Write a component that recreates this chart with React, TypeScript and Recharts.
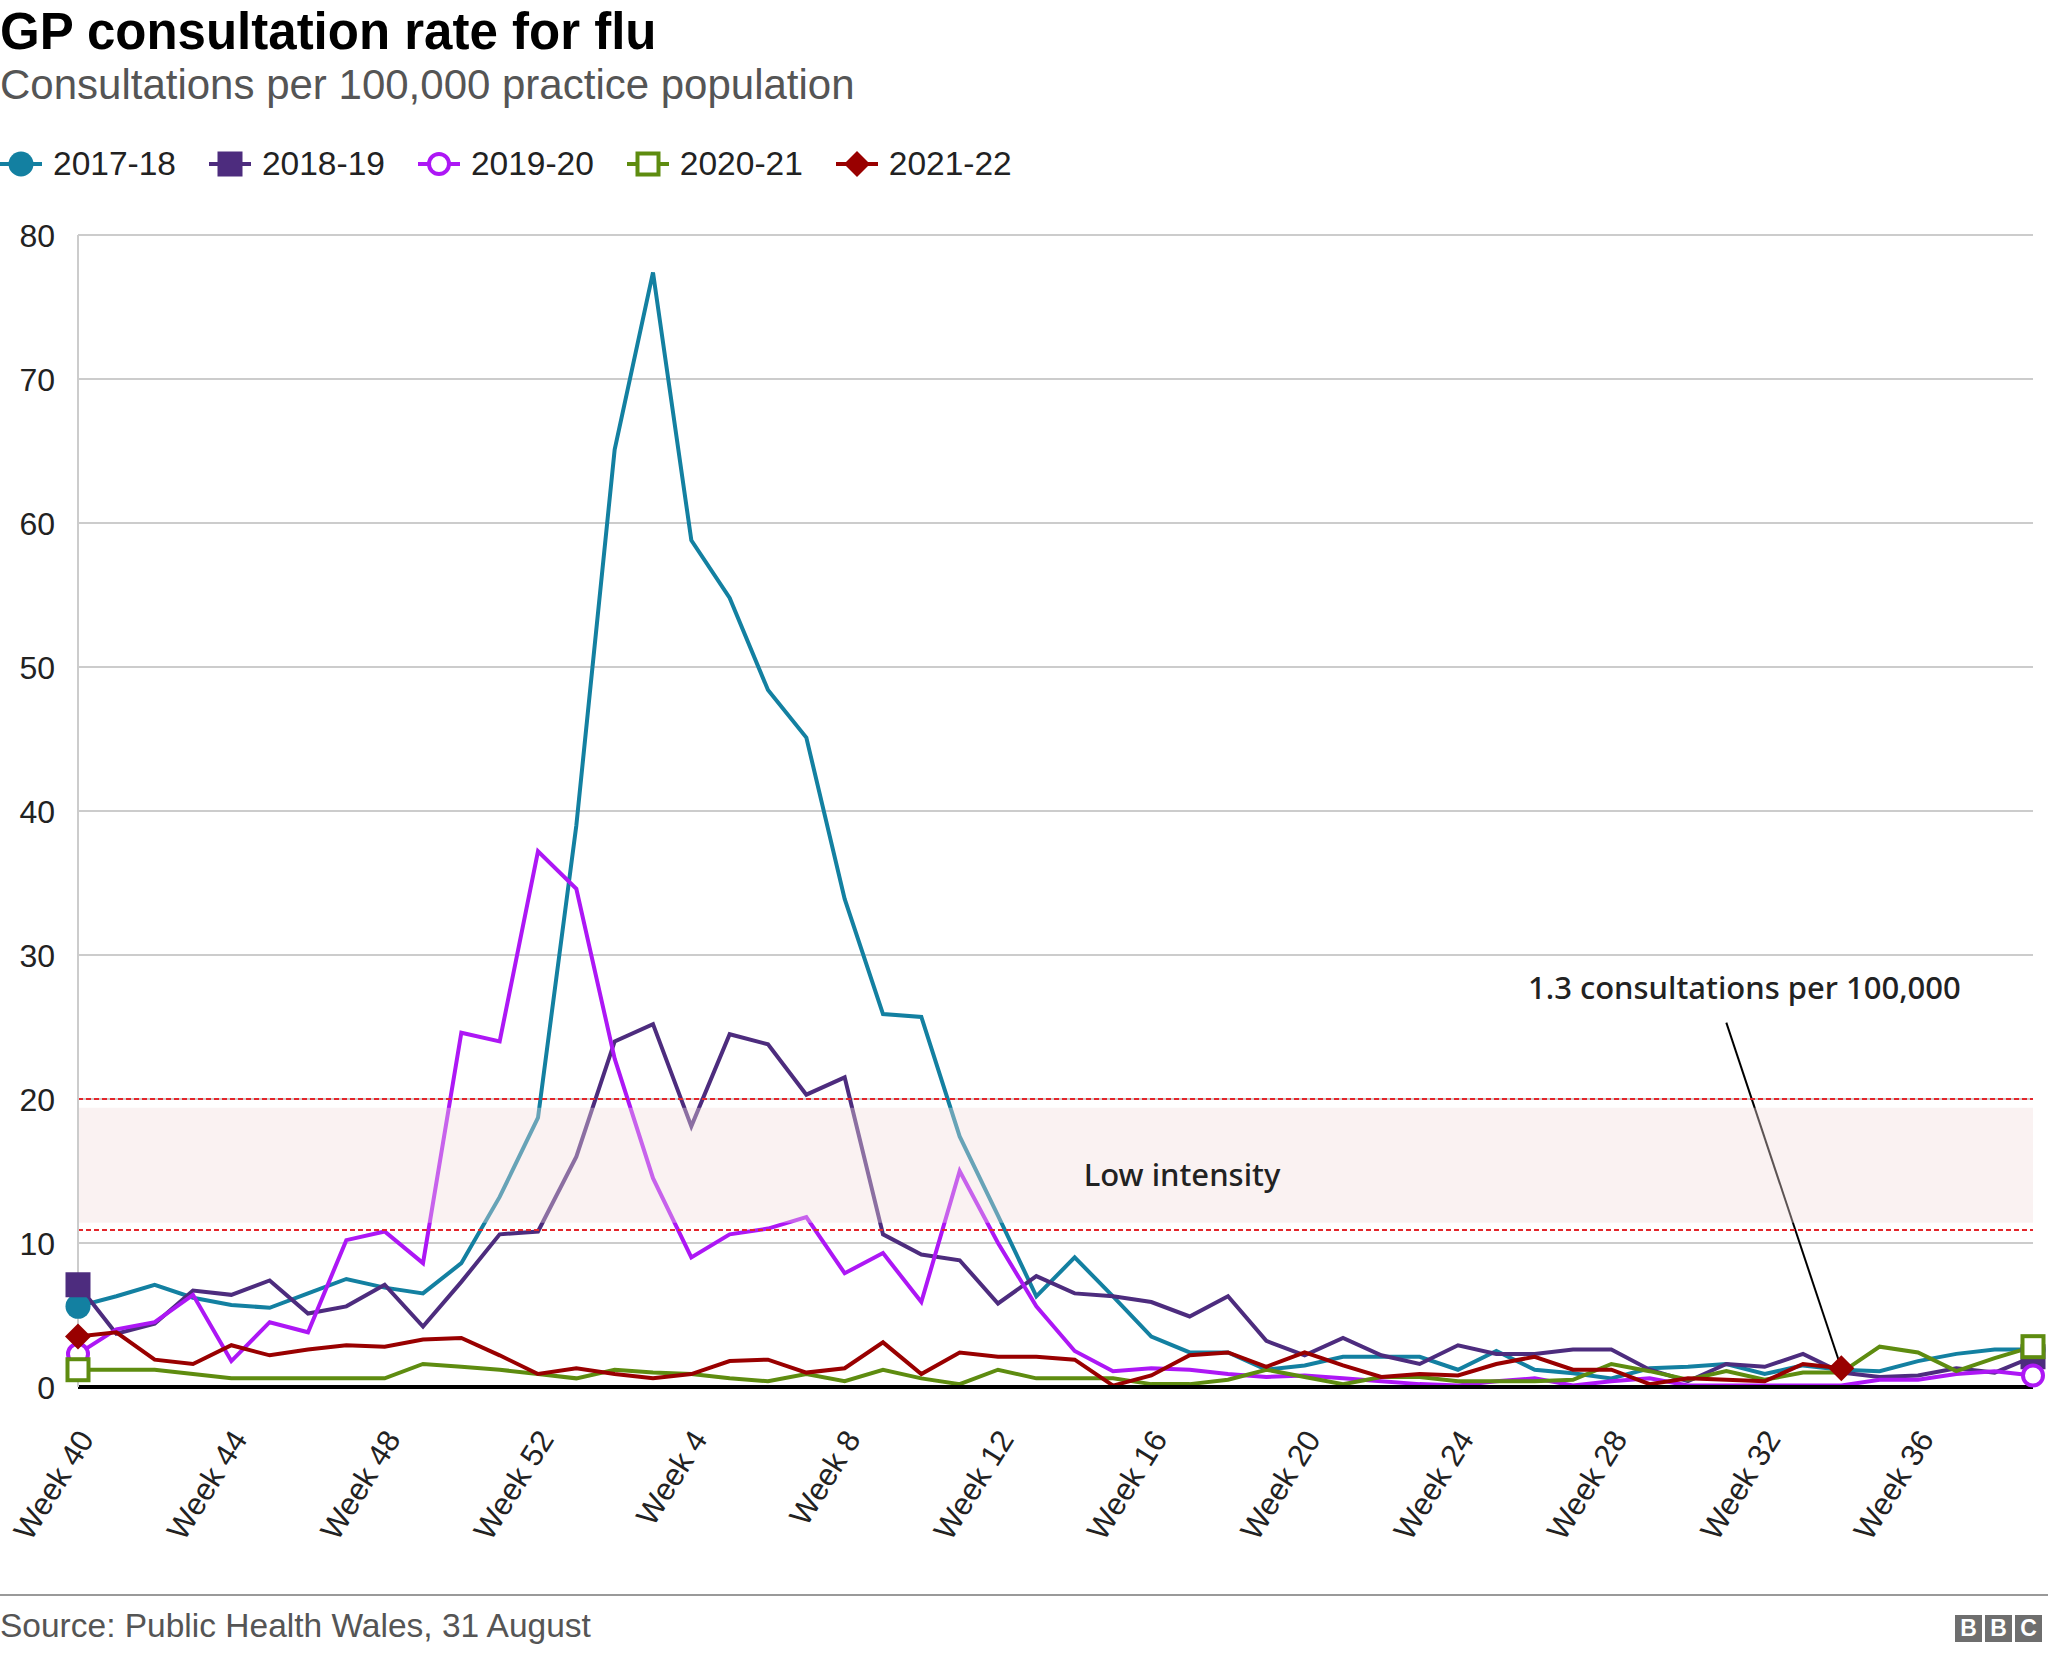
import React from 'react';
import { LineChart, Line, XAxis, YAxis, CartesianGrid, ReferenceLine, ReferenceArea } from 'recharts';

const weeks = [
  'Week 40', 'Week 41', 'Week 42', 'Week 43', 'Week 44', 'Week 45', 'Week 46', 'Week 47', 'Week 48', 'Week 49',
  'Week 50', 'Week 51', 'Week 52', 'Week 1', 'Week 2', 'Week 3', 'Week 4', 'Week 5', 'Week 6', 'Week 7',
  'Week 8', 'Week 9', 'Week 10', 'Week 11', 'Week 12', 'Week 13', 'Week 14', 'Week 15', 'Week 16', 'Week 17',
  'Week 18', 'Week 19', 'Week 20', 'Week 21', 'Week 22', 'Week 23', 'Week 24', 'Week 25', 'Week 26', 'Week 27',
  'Week 28', 'Week 29', 'Week 30', 'Week 31', 'Week 32', 'Week 33', 'Week 34', 'Week 35', 'Week 36', 'Week 37',
  'Week 38', 'Week 39',
];

const s2017_18 = [
  5.6, 6.3, 7.1, 6.2, 5.7, 5.5, 6.5, 7.5, 6.9, 6.5, 8.6, 13.2, 18.7, 39.0, 65.1, 77.4, 58.8, 54.8, 48.4, 45.1,
  33.9, 25.9, 25.7, 17.4, 11.9, 6.3, 9.0, 6.3, 3.5, 2.4, 2.4, 1.2, 1.5, 2.1, 2.1, 2.1, 1.2, 2.5, 1.2, 0.95,
  0.6, 1.3, 1.4, 1.6, 0.9, 1.5, 1.2, 1.1, 1.8, 2.3, 2.6, 2.6,
];
const s2018_19 = [
  7.1, 3.7, 4.4, 6.7, 6.4, 7.4, 5.1, 5.6, 7.1, 4.2, 7.3, 10.6, 10.8, 16.0, 24.0, 25.2, 18.1, 24.5, 23.8, 20.3,
  21.5, 10.6, 9.2, 8.8, 5.8, 7.7, 6.5, 6.3, 5.9, 4.9, 6.3, 3.2, 2.2, 3.4, 2.2, 1.6, 2.9, 2.3, 2.3, 2.6,
  2.6, 1.2, 0.4, 1.6, 1.4, 2.3, 1.0, 0.7, 0.8, 1.3, 1.0, 2.1,
];
const s2019_20 = [
  2.3, 4.0, 4.5, 6.4, 1.8, 4.5, 3.8, 10.2, 10.8, 8.6, 24.6, 24.0, 37.2, 34.6, 22.8, 14.5, 9.0, 10.6, 11.0, 11.8,
  7.9, 9.3, 5.9, 15.0, 10.0, 5.6, 2.5, 1.1, 1.3, 1.2, 0.9, 0.7, 0.8, 0.6, 0.4, 0.2, 0.1, 0.4, 0.6, 0.1,
  0.4, 0.6, 0.1, 0.1, 0.1, 0.1, 0.1, 0.5, 0.5, 0.9, 1.1, 0.8,
];
const s2020_21 = [
  1.2, 1.2, 1.2, 0.9, 0.6, 0.6, 0.6, 0.6, 0.6, 1.6, 1.4, 1.2, 0.9, 0.6, 1.2, 1.0, 0.9, 0.6, 0.4, 0.9,
  0.4, 1.2, 0.6, 0.2, 1.2, 0.6, 0.6, 0.6, 0.2, 0.2, 0.5, 1.2, 0.7, 0.2, 0.7, 0.7, 0.4, 0.4, 0.4, 0.5,
  1.6, 1.1, 0.5, 1.1, 0.5, 1.0, 1.0, 2.8, 2.4, 1.1, 2.0, 2.8,
];
const s2021_22 = [
  3.5, 3.8, 1.9, 1.6, 2.9, 2.2, 2.6, 2.9, 2.8, 3.3, 3.4, 2.2, 0.9, 1.3, 0.9, 0.6, 0.9, 1.8, 1.9, 1.0,
  1.3, 3.1, 0.9, 2.4, 2.1, 2.1, 1.9, 0.1, 0.8, 2.2, 2.4, 1.4, 2.4, 1.5, 0.7, 0.9, 0.8, 1.6, 2.1, 1.2,
  1.2, 0.2, 0.6, 0.5, 0.4, 1.6, 1.3,
];

const yTicks = [0, 10, 20, 30, 40, 50, 60, 70, 80];
const lowIntensityUpper = 20;
const lowIntensityLower = 10.9;

const SERIES = [
  { key: 's1718', name: '2017-18', values: s2017_18, color: '#1380a1', shape: 'circle' },
  { key: 's1819', name: '2018-19', values: s2018_19, color: '#4d2c7e', shape: 'square' },
  { key: 's1920', name: '2019-20', values: s2019_20, color: '#ad17f5', shape: 'openCircle' },
  { key: 's2021', name: '2020-21', values: s2020_21, color: '#5e8c10', shape: 'openSquare' },
  { key: 's2122', name: '2021-22', values: s2021_22, color: '#990000', shape: 'diamond' },
];

const data = weeks.map((week, i) => {
  const row: Record<string, any> = { week };
  for (const s of SERIES) row[s.key] = s.values[i] ?? null;
  return row;
});

const FONT = '"Liberation Sans", Arial, Helvetica, sans-serif';
const ANNOT_FONT = '"Noto Sans", "Open Sans", sans-serif';
const CHART_W = 2048;
const CHART_H = 1590;
const TOP = 235;
const PLOT_BOTTOM = 1387;

function Marker({ shape, color, cx, cy }: { shape: string; color: string; cx: number; cy: number }) {
  switch (shape) {
    case 'circle':
      return <circle cx={cx} cy={cy} r={12.5} fill={color} />;
    case 'square':
      return <rect x={cx - 12.5} y={cy - 12.5} width={25} height={25} fill={color} />;
    case 'openCircle':
      return <circle cx={cx} cy={cy} r={10} fill="#fff" stroke={color} strokeWidth={4} />;
    case 'openSquare':
      return <rect x={cx - 10.5} y={cy - 10.5} width={21} height={21} fill="#fff" stroke={color} strokeWidth={4} />;
    default:
      return (
        <polygon
          points={`${cx},${cy - 13} ${cx + 13},${cy} ${cx},${cy + 13} ${cx - 13},${cy}`}
          fill={color}
        />
      );
  }
}

// markers only on the first and last point of each season
const makeDot = (shape: string, color: string, lastIndex: number) => (props: any) => {
  const { cx, cy, index } = props;
  if ((index !== 0 && index !== lastIndex) || cx == null || cy == null) return <g key={`d-${index}`} />;
  return (
    <g key={`d-${index}`}>
      <Marker shape={shape} color={color} cx={cx} cy={cy} />
    </g>
  );
};

const XTick = (props: any) => {
  const { x, payload } = props;
  return (
    <text
      transform={`translate(${x + 17},${PLOT_BOTTOM + 52}) rotate(-58)`}
      textAnchor="end"
      fontSize={31}
      fontFamily={FONT}
      fill="#222"
    >
      {payload.value}
    </text>
  );
};

const YTick = (props: any) => {
  const { y, payload } = props;
  return (
    <text x={55} y={y} dy="0.36em" textAnchor="end" fontSize={32} fontFamily={FONT} fill="#222">
      {payload.value}
    </text>
  );
};

function LegendRow() {
  return (
    <div style={{ position: 'absolute', left: 0, top: 146, display: 'flex', alignItems: 'center', height: 36 }}>
      {SERIES.map((s, i) => (
        <div key={s.key} style={{ display: 'flex', alignItems: 'center', marginRight: i < SERIES.length - 1 ? 33 : 0 }}>
          <svg width={42} height={34}>
            <line x1={0} y1={17} x2={42} y2={17} stroke={s.color} strokeWidth={4} />
            <Marker shape={s.shape} color={s.color} cx={21} cy={17} />
          </svg>
          <span style={{ marginLeft: 11, fontSize: 33.5, lineHeight: '36px', color: '#222', fontFamily: FONT }}>{s.name}</span>
        </div>
      ))}
    </div>
  );
}

export default function App() {
  return (
    <div style={{ position: 'absolute', left: 0, top: 0, width: 2048, height: 1653, background: '#fff', fontFamily: FONT, overflow: 'hidden' }}>
      <div style={{ position: 'absolute', left: 0, top: 6, fontSize: 51, lineHeight: 1, fontWeight: 700, color: '#000', whiteSpace: 'nowrap' }}>
        GP consultation rate for flu
      </div>
      <div style={{ position: 'absolute', left: 0, top: 64, fontSize: 42, lineHeight: 1, color: '#555', whiteSpace: 'nowrap' }}>
        Consultations per 100,000 practice population
      </div>
      <LegendRow />

      <div style={{ position: 'absolute', left: 0, top: 0 }}>
        <LineChart width={CHART_W} height={CHART_H} data={data} margin={{ top: TOP, right: 15, left: 0, bottom: 0 }}>
          <CartesianGrid vertical={false} stroke="#cccccc" strokeWidth={2} />
          <ReferenceLine
            segment={[{ x: 'Week 31', y: 25.3 }, { x: 'Week 34', y: 1.3 }]}
            stroke="#000"
            strokeWidth={2}
          />
          <XAxis
            dataKey="week"
            interval={3}
            tickLine={false}
            axisLine={{ stroke: '#000', strokeWidth: 4 }}
            tick={<XTick />}
            height={CHART_H - PLOT_BOTTOM}
          />
          <YAxis
            domain={[0, 80]}
            ticks={yTicks}
            width={78}
            tickLine={false}
            axisLine={{ stroke: '#cccccc', strokeWidth: 2 }}
            tick={<YTick />}
          />
          {SERIES.map((s) => (
            <Line
              key={s.key}
              type="linear"
              dataKey={s.key}
              stroke={s.color}
              strokeWidth={4}
              dot={makeDot(s.shape, s.color, s.values.length - 1)}
              activeDot={false}
              isAnimationActive={false}
              connectNulls={false}
            />
          ))}
          <ReferenceArea y1={11.4} y2={19.4} fill="#f2dede" fillOpacity={0.38} stroke="none" zIndex={450} />
          <ReferenceLine y={lowIntensityUpper} stroke="#e3262b" strokeWidth={2} strokeDasharray="5 3" />
          <ReferenceLine y={lowIntensityLower} stroke="#e3262b" strokeWidth={2} strokeDasharray="5 3" />
        </LineChart>
      </div>

      <div style={{ position: 'absolute', left: 1182, top: 1174, transform: 'translate(-50%, -50%)', fontFamily: ANNOT_FONT, fontWeight: 500, fontSize: 31, color: '#222', whiteSpace: 'nowrap' }}>
        Low intensity
      </div>
      <div style={{ position: 'absolute', left: 1528, top: 968, fontFamily: ANNOT_FONT, fontWeight: 500, fontSize: 31, lineHeight: '38px', color: '#222', whiteSpace: 'nowrap' }}>
        1.3 consultations per 100,000
      </div>

      <div style={{ position: 'absolute', left: 0, top: 1594, width: 2048, height: 2, background: '#999' }} />
      <div style={{ position: 'absolute', left: 0, top: 1609, fontSize: 33.5, lineHeight: 1, color: '#555', whiteSpace: 'nowrap' }}>
        Source: Public Health Wales, 31 August
      </div>
      <div style={{ position: 'absolute', left: 1955, top: 1615, display: 'flex' }}>
        {['B', 'B', 'C'].map((c, i) => (
          <div key={i} style={{ width: 27, height: 27, marginLeft: i ? 3 : 0, background: '#6e6e6e', color: '#fff', fontWeight: 700, fontSize: 23, lineHeight: '27px', textAlign: 'center' }}>
            {c}
          </div>
        ))}
      </div>
    </div>
  );
}
